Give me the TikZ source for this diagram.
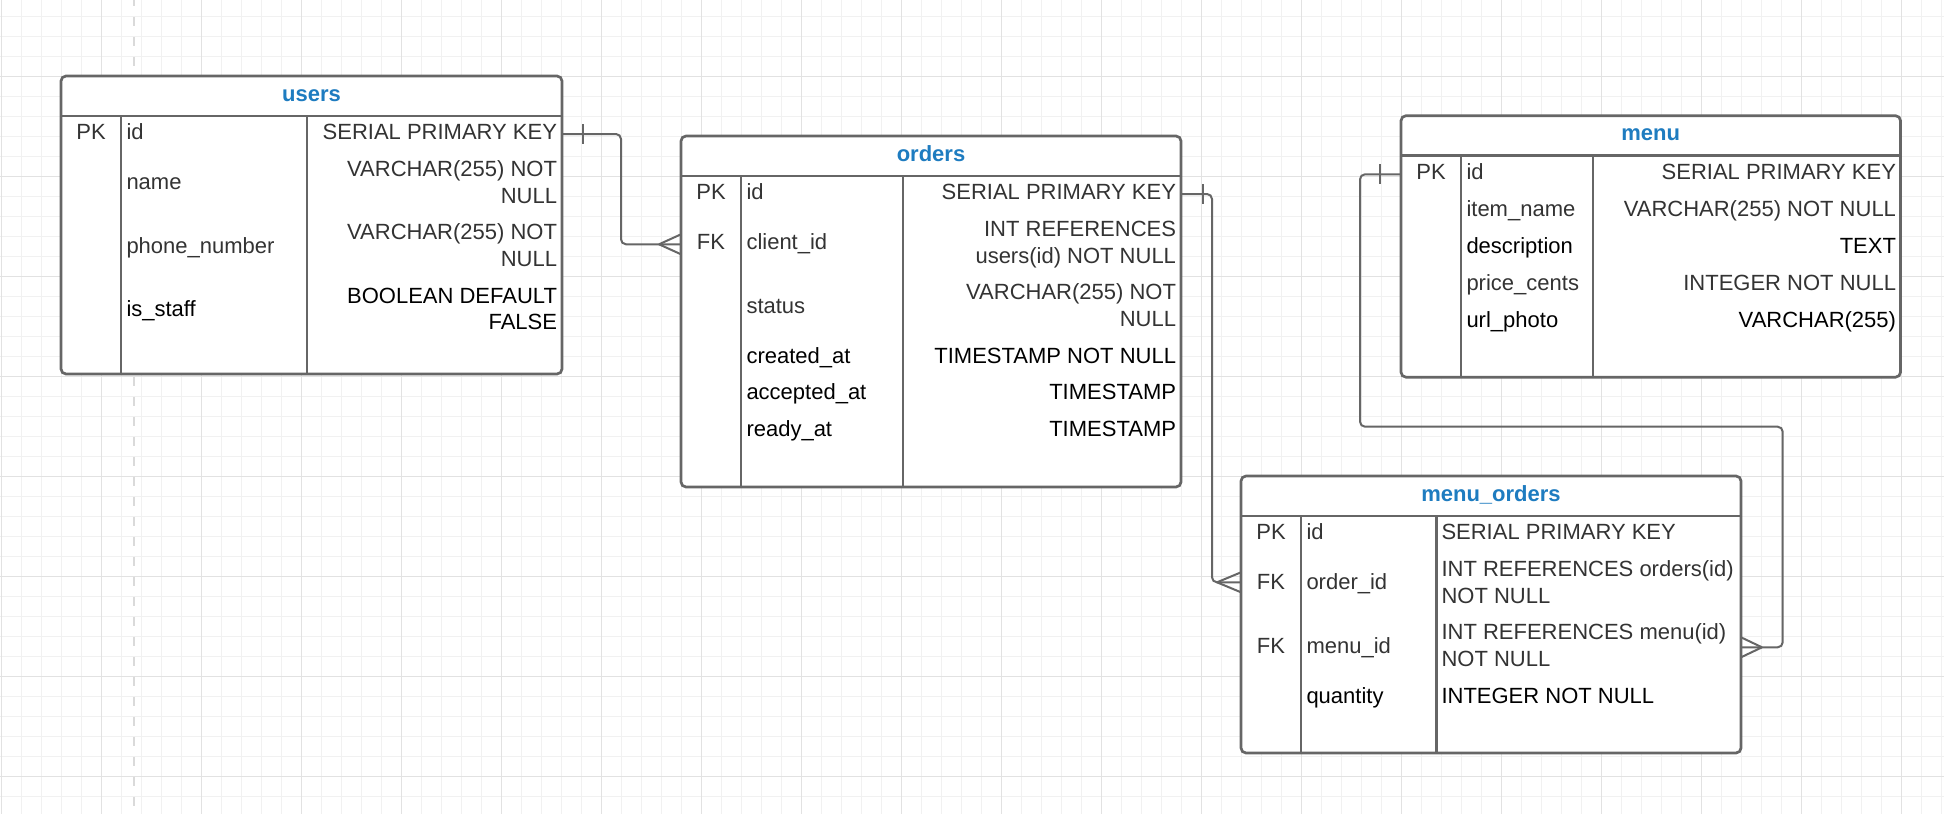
\documentclass[tikz,border=0pt]{standalone}
\usepackage{fontspec}
\setmainfont{Liberation Sans}
\usetikzlibrary{calc}
\definecolor{bordergray}{RGB}{102,102,102}
\definecolor{tgray}{RGB}{51,51,51}
\definecolor{hblue}{RGB}{30,124,192}
\definecolor{gminor}{RGB}{241,241,241}
\definecolor{gmajor}{RGB}{226,226,226}
\definecolor{dashgray}{RGB}{218,218,218}
\begin{document}
\begin{tikzpicture}[x=1pt,y=-1pt,
  every node/.style={font=\fontsize{22}{26}\selectfont, inner sep=0pt, outer sep=0pt},
  tbl/.style={draw=bordergray, line width=2.7pt, rounded corners=5pt, fill=white, anchor=north west},
  inl/.style={draw=bordergray, line width=2.7pt},
  hdr/.style={anchor=base, text=hblue, font=\fontsize{22}{26}\selectfont\bfseries},
  kt/.style={anchor=base, text=tgray},
  nt/.style={anchor=base west, text=tgray},
  tt/.style={anchor=base east, text=tgray},
  tl/.style={anchor=base west, text=tgray},
  blk/.style={text=black},
  conn/.style={draw=bordergray, line width=2pt, rounded corners=5pt},
  gminorline/.style={draw=gminor, line width=1.2pt},
  gmajorline/.style={draw=gmajor, line width=1.2pt},
  dashline/.style={draw=dashgray, line width=2.8pt, dash pattern=on 9.5pt off 10.5pt, dash phase=3.5pt}]
\useasboundingbox (0,0) rectangle (1944,814);
\fill[white] (0,0) rectangle (1944,814);
% grid
\foreach \gx in {1.7,21.7,...,1942} \draw[gminorline] (\gx,0) -- (\gx,814);
\foreach \gy in {16.3,36.3,...,814} \draw[gminorline] (0,\gy) -- (1944,\gy);
\foreach \gx in {1.7,101.7,...,1942} \draw[gmajorline] (\gx,0) -- (\gx,814);
\foreach \gy in {76.3,176.3,...,814} \draw[gmajorline] (0,\gy) -- (1944,\gy);
\draw[dashline] (134,0) -- (134,814);

% ---------- users ----------
\node[tbl, minimum width=501pt, minimum height=298pt] (users) at (61,76) {};
\draw[inl] ([yshift=-40pt]users.north west) -- ([yshift=-40pt]users.north east);
\draw[inl] ([xshift=60pt,yshift=-40pt]users.north west) -- ([xshift=60pt]users.south west);
\draw[inl] ([xshift=246pt,yshift=-40pt]users.north west) -- ([xshift=246pt]users.south west);
\node[hdr] (users-h) at (311.5,101) {users};
\node[kt] (u-pk) at (91,139) {PK};
\node[nt] (u-id) at (126.5,139) {id};
\node[tt] (u-idt) at (557,139) {SERIAL PRIMARY KEY};
\node[nt] (u-name) at (126.5,189.7) {name};
\node[tt] (u-namet1) at (557,176.3) {VARCHAR(255) NOT};
\node[tt] (u-namet2) at (557,203) {NULL};
\node[nt] (u-phone) at (126.5,253) {phone\_number};
\node[tt] (u-phonet1) at (557,239.7) {VARCHAR(255) NOT};
\node[tt] (u-phonet2) at (557,266.3) {NULL};
\node[nt,blk] (u-staff) at (126.5,316.3) {is\_staff};
\node[tt,blk] (u-stafft1) at (557,303) {BOOLEAN DEFAULT};
\node[tt,blk] (u-stafft2) at (557,329.7) {FALSE};

% ---------- orders ----------
\node[tbl, minimum width=500pt, minimum height=351pt] (orders) at (681,136) {};
\draw[inl] ([yshift=-40pt]orders.north west) -- ([yshift=-40pt]orders.north east);
\draw[inl] ([xshift=60pt,yshift=-40pt]orders.north west) -- ([xshift=60pt]orders.south west);
\draw[inl] ([xshift=222pt,yshift=-40pt]orders.north west) -- ([xshift=222pt]orders.south west);
\node[hdr] (orders-h) at (931,161) {orders};
\node[kt] (o-pk) at (711,199.7) {PK};
\node[nt] (o-id) at (746.5,199.7) {id};
\node[tt] (o-idt) at (1176,199.7) {SERIAL PRIMARY KEY};
\node[kt] (o-fk) at (711,249.7) {FK};
\node[nt] (o-client) at (746.5,249.7) {client\_id};
\node[tt] (o-clientt1) at (1176,236.3) {INT REFERENCES};
\node[tt] (o-clientt2) at (1176,263) {users(id) NOT NULL};
\node[nt] (o-status) at (746.5,313) {status};
\node[tt] (o-statust1) at (1176,299.7) {VARCHAR(255) NOT};
\node[tt] (o-statust2) at (1176,326.3) {NULL};
\node[nt,blk] (o-created) at (746.5,363) {created\_at};
\node[tt,blk] (o-createdt) at (1176,363) {TIMESTAMP NOT NULL};
\node[nt,blk] (o-accepted) at (746.5,399.7) {accepted\_at};
\node[tt,blk] (o-acceptedt) at (1176,399.7) {TIMESTAMP};
\node[nt,blk] (o-ready) at (746.5,436.3) {ready\_at};
\node[tt,blk] (o-readyt) at (1176,436.3) {TIMESTAMP};

% ---------- menu ----------
\node[tbl, minimum width=499.5pt, minimum height=261.5pt] (menu) at (1401,115.7) {};
\draw[inl] ([yshift=-40pt]menu.north west) -- ([yshift=-40pt]menu.north east);
\draw[inl] ([xshift=60pt,yshift=-40pt]menu.north west) -- ([xshift=60pt]menu.south west);
\draw[inl] ([xshift=192pt,yshift=-40pt]menu.north west) -- ([xshift=192pt]menu.south west);
\node[hdr] (menu-h) at (1650.7,140.7) {menu};
\node[kt] (m-pk) at (1431,179.7) {PK};
\node[nt] (m-id) at (1466.5,179.7) {id};
\node[tt] (m-idt) at (1896,179.7) {SERIAL PRIMARY KEY};
\node[nt] (m-item) at (1466.5,216.3) {item\_name};
\node[tt] (m-itemt) at (1896,216.3) {VARCHAR(255) NOT NULL};
\node[nt,blk] (m-desc) at (1466.5,253.7) {description};
\node[tt,blk] (m-desct) at (1896,253.7) {TEXT};
\node[nt] (m-price) at (1466.5,290.3) {price\_cents};
\node[tt] (m-pricet) at (1896,290.3) {INTEGER NOT NULL};
\node[nt,blk] (m-url) at (1466.5,327.3) {url\_photo};
\node[tt,blk] (m-urlt) at (1896,327.3) {VARCHAR(255)};

% ---------- menu_orders ----------
\node[tbl, minimum width=500pt, minimum height=277pt] (mo) at (1241,476) {};
\draw[inl] ([yshift=-40pt]mo.north west) -- ([yshift=-40pt]mo.north east);
\draw[inl] ([xshift=60pt,yshift=-40pt]mo.north west) -- ([xshift=60pt]mo.south west);
\draw[inl] ([xshift=195.5pt,yshift=-40pt]mo.north west) -- ([xshift=195.5pt]mo.south west);
\node[hdr] (mo-h) at (1491,501) {menu\_orders};
\node[kt] (mo-pk) at (1271,539.7) {PK};
\node[nt] (mo-id) at (1306.5,539.7) {id};
\node[tl] (mo-idt) at (1441.5,539.7) {SERIAL PRIMARY KEY};
\node[kt] (mo-fk1) at (1271,589.7) {FK};
\node[nt] (mo-order) at (1306.5,589.7) {order\_id};
\node[tl] (mo-ordert1) at (1441.5,576.3) {INT REFERENCES orders(id)};
\node[tl] (mo-ordert2) at (1441.5,603) {NOT NULL};
\node[kt] (mo-fk2) at (1271,653) {FK};
\node[nt] (mo-menu) at (1306.5,653) {menu\_id};
\node[tl] (mo-menut1) at (1441.5,639.7) {INT REFERENCES menu(id)};
\node[tl] (mo-menut2) at (1441.5,666.3) {NOT NULL};
\node[nt,blk] (mo-qty) at (1306.5,703) {quantity};
\node[tl,blk] (mo-qtyt) at (1441.5,703) {INTEGER NOT NULL};

% ---------- connectors ----------
\coordinate (c1s) at ($(users.north east)+(0,58)$);
\coordinate (c1e) at ($(orders.north west)+(0,108.3)$);
\draw[conn] (c1s) -- ++(59,0) |- (c1e);
\draw[conn] ($(c1s)+(21,-10)$) -- ++(0,20);
\draw[conn] ($(c1e)+(-22,0)$) -- ($(c1e)+(0,-10)$);
\draw[conn] ($(c1e)+(-22,0)$) -- ($(c1e)+(0,10)$);

\coordinate (c2s) at ($(orders.north east)+(0,58)$);
\coordinate (c2e) at ($(mo.north west)+(0,106.3)$);
\draw[conn] (c2s) -- ++(31,0) |- (c2e);
\draw[conn] ($(c2s)+(22,-10)$) -- ++(0,20);
\draw[conn] ($(c2e)+(-24,0)$) -- ($(c2e)+(0,-10)$);
\draw[conn] ($(c2e)+(-24,0)$) -- ($(c2e)+(0,10)$);

\coordinate (c3s) at ($(menu.north west)+(0,58.6)$);
\coordinate (c3e) at ($(mo.north east)+(0,171.3)$);
\draw[conn] (c3s) -- ++(-41,0) |- (1782.7,426.7) |- (c3e);
\draw[conn] ($(c3s)+(-21,-10)$) -- ++(0,20);
\draw[conn] ($(c3e)+(21,0)$) -- ($(c3e)+(0,-10)$);
\draw[conn] ($(c3e)+(21,0)$) -- ($(c3e)+(0,10)$);
\end{tikzpicture}
\end{document}
